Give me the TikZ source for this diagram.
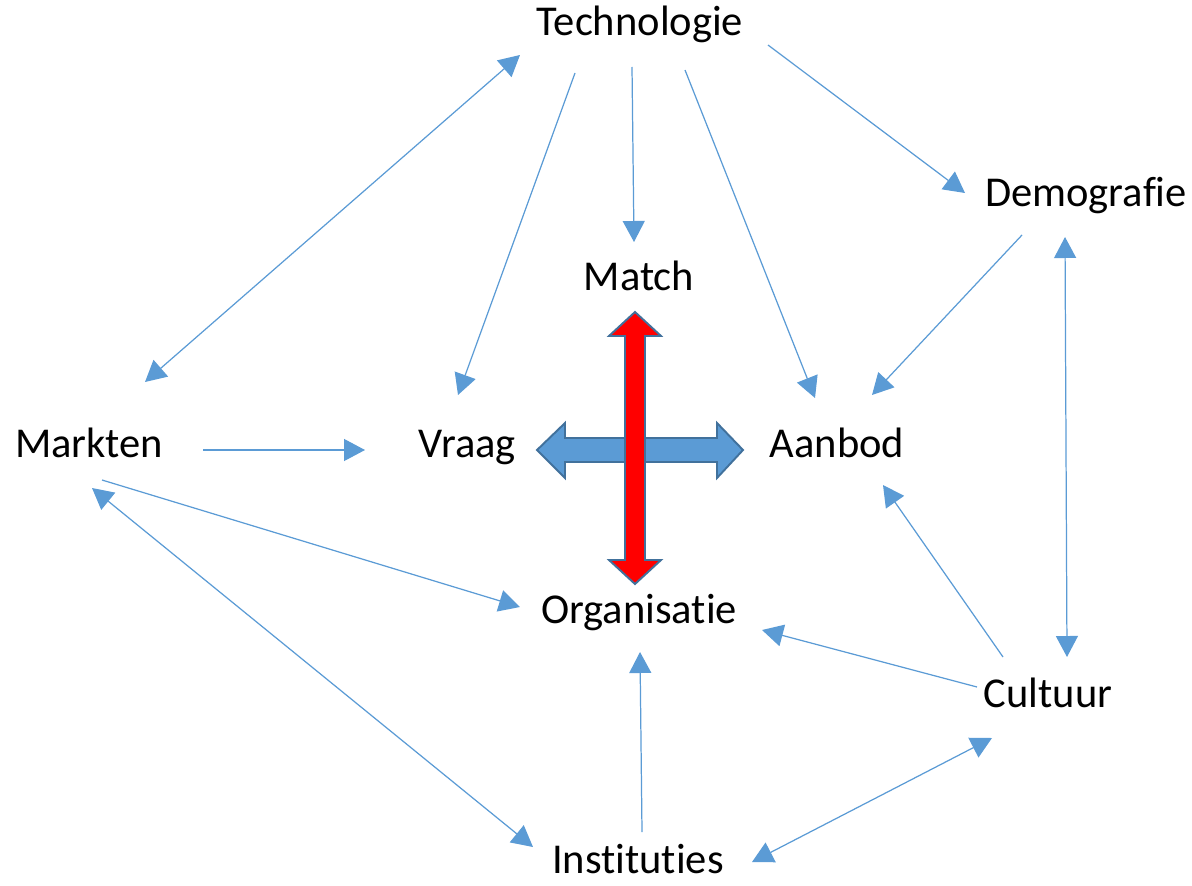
\documentclass[tikz,border=0pt]{standalone}
\usepackage{fontspec}
\setmainfont[RawFeature={-liga;-clig;-calt;-dlig}]{Carlito}
\usetikzlibrary{arrows.meta}
\definecolor{linkblue}{HTML}{5B9BD5}
\definecolor{crossline}{HTML}{41719C}

\begin{document}
\begin{tikzpicture}[x=0.02cm, y=-0.02cm, main/.style = {font=\fontsize{24.2}{29}\selectfont, inner sep=0pt, anchor=base}, edge/.style = {->, > = {Triangle[length=0.42cm, width=0.44cm]}, color=linkblue, line width=0.7pt}]

	\useasboundingbox (0,0) rectangle (1192,885);

	\node[main] (tech) at (640,36) {Technologie};
	\node[main] (demo) at (1086,206) {Demografie};
	\node[main] (match) at (639,290) {Match};
	\node[main] (markten) at (89,457) {Markten};
	\node[main] (vraag) at (467,457) {Vraag};
	\node[main] (aanbod) at (837,457) {Aanbod};
	\node[main] (org) at (639,623) {Organisatie};
	\node[main] (cultuur) at (1048,707) {Cultuur};
	\node[main] (inst) at (638,873) {Instituties};

	% dubbele pijlen in het midden
	\filldraw[fill=linkblue, draw=crossline, line width=1.1pt]
	(537,450) -- (565,423) -- (565,438) -- (717,438) -- (717,423) -- (743,450)
	-- (717,478) -- (717,462) -- (565,462) -- (565,478) -- cycle;
	\filldraw[fill=red, draw=crossline, line width=1.1pt]
	(635,312) -- (661,336) -- (645,336) -- (645,560) -- (661,560) -- (635,584)
	-- (609,560) -- (625,560) -- (625,336) -- (609,336) -- cycle;

	\path[edge]
	([shift={(56,-75)}]markten.base) edge[<->] ([shift={(-120,19)}]tech.base)
	([shift={(-65,37)}]tech.base) edge ([shift={(-9,-62)}]vraag.base)
	([shift={(-8,31)}]tech.base) edge ([shift={(-5,-48)}]match.base)
	([shift={(45,34)}]tech.base) edge ([shift={(-22,-59)}]aanbod.base)
	([shift={(128,9)}]tech.base) edge ([shift={(-121,-13)}]demo.base)

	([shift={(-64,29)}]demo.base) edge ([shift={(35,-62)}]aanbod.base)
	([shift={(-21,31)}]demo.base) edge[<->] ([shift={(19,-50)}]cultuur.base)

	([shift={(114,-7)}]markten.base) edge ([shift={(-102,-7)}]vraag.base)
	([shift={(13,23)}]markten.base) edge ([shift={(-119,-16)}]org.base)
	([shift={(3,31)}]markten.base) edge[<->] ([shift={(-105,-26)}]inst.base)

	([shift={(-45,-50)}]cultuur.base) edge ([shift={(46,28)}]aanbod.base)
	([shift={(-71,-20)}]cultuur.base) edge ([shift={(123,7)}]org.base)
	([shift={(4,-41)}]inst.base) edge ([shift={(1,29)}]org.base)
	([shift={(-56,31)}]cultuur.base) edge[<->] ([shift={(114,-11)}]inst.base);

\end{tikzpicture}
\end{document}
